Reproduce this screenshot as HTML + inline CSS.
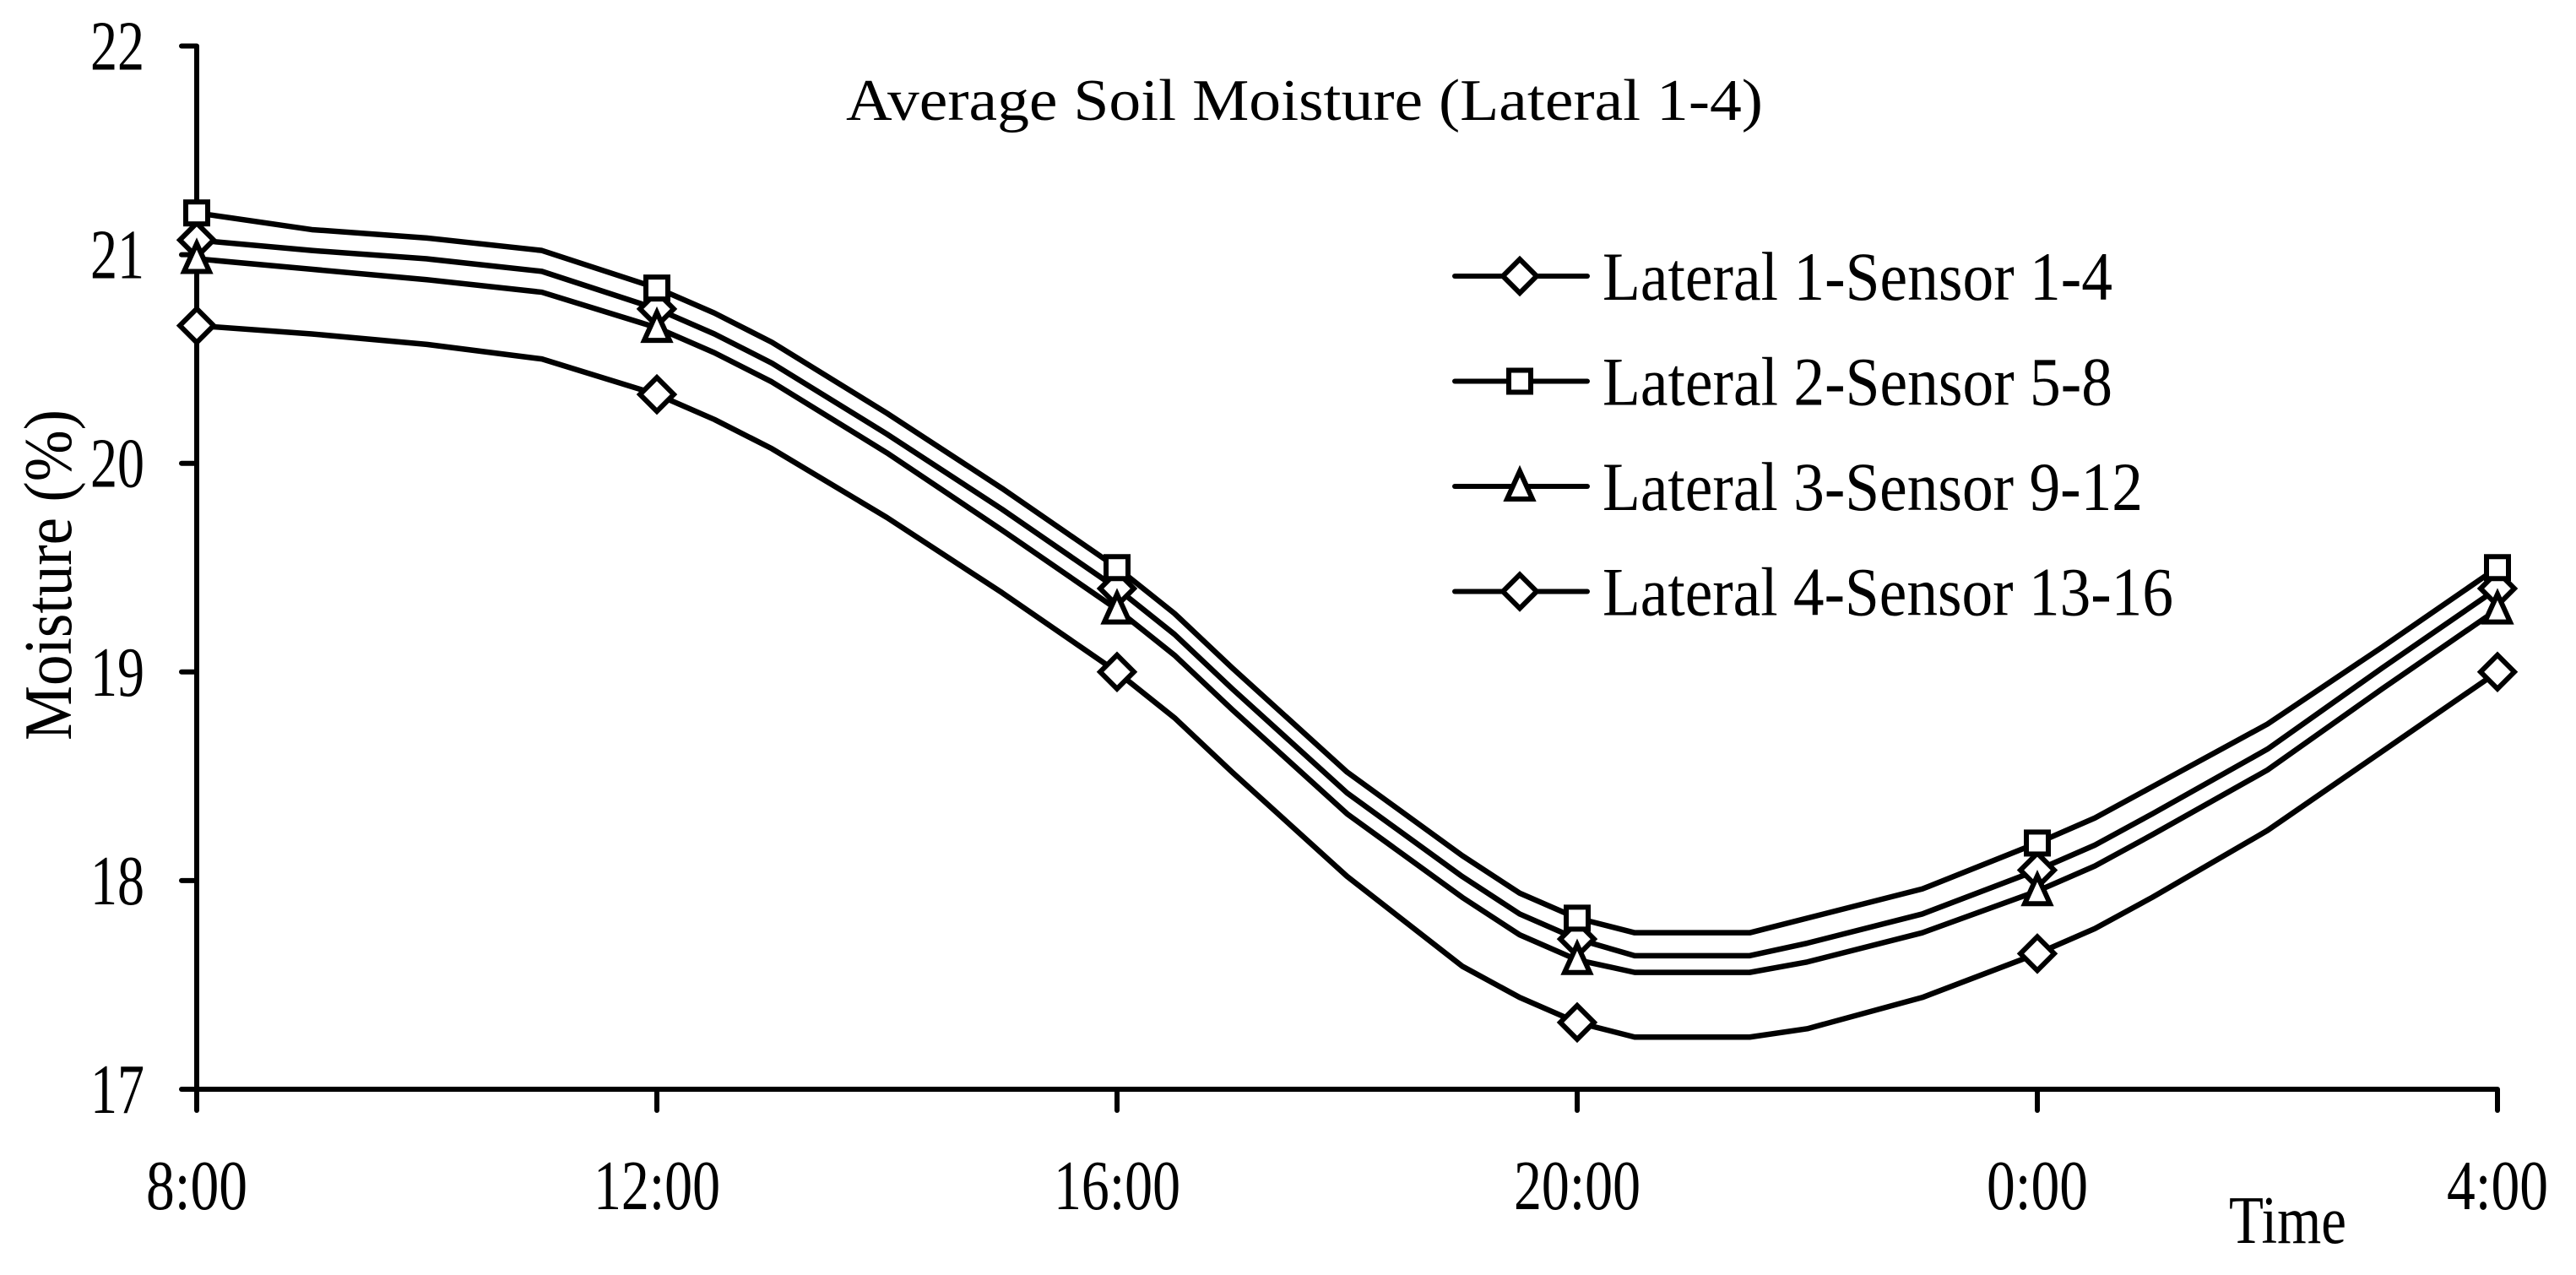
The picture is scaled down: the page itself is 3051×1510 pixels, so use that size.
<!DOCTYPE html>
<html><head><meta charset="utf-8"><style>
html,body{margin:0;padding:0;background:#fff;}
svg{display:block;}
text{font-family:"Liberation Serif","DejaVu Serif",serif;fill:#000;}
</style></head>
<body>
<svg id="chart" width="3051" height="1510" viewBox="0 0 3051 1510" xmlns="http://www.w3.org/2000/svg">
<rect width="3051" height="1510" fill="#fff"/>
<text x="1002" y="142" font-size="70" textLength="1086" lengthAdjust="spacingAndGlyphs">Average Soil Moisture (Lateral 1-4)</text>
<text transform="translate(84,681) rotate(-90)" text-anchor="middle" font-size="80" textLength="392" lengthAdjust="spacingAndGlyphs">Moisture (%)</text>
<text x="2640" y="1472" font-size="80" textLength="139" lengthAdjust="spacingAndGlyphs">Time</text>
<g id="axes"></g>
<g id="series"></g>
<g id="legend"></g>
</svg>
<script>
const times = [0,1,2,3,4,4.5,5,6,7,8,8.5,9,10,11,11.5,12,12.5,13.5,14,15,16,16.5,17,18,19,20];
const xTickLabels = ["8:00","12:00","16:00","20:00","0:00","4:00"];
const yTicks = [17,18,19,20,21,22];
const seriesNames = ["Lateral 1-Sensor 1-4","Lateral 2-Sensor 5-8","Lateral 3-Sensor 9-12","Lateral 4-Sensor 13-16"];
const l1 = [21.07,21.02,20.98,20.92,20.74,20.62,20.48,20.14,19.78,19.40,19.18,18.92,18.42,18.02,17.84,17.72,17.64,17.64,17.70,17.84,18.05,18.17,18.32,18.63,19.02,19.40];
const l2 = [21.20,21.12,21.08,21.02,20.84,20.72,20.58,20.24,19.88,19.50,19.28,19.02,18.52,18.12,17.94,17.82,17.75,17.75,17.82,17.96,18.18,18.30,18.45,18.75,19.12,19.50];
const l3 = [20.98,20.93,20.88,20.82,20.65,20.53,20.39,20.05,19.68,19.30,19.08,18.82,18.32,17.92,17.74,17.62,17.56,17.56,17.61,17.75,17.95,18.07,18.22,18.53,18.92,19.30];
const l4 = [20.66,20.62,20.57,20.50,20.33,20.21,20.07,19.74,19.38,19.00,18.78,18.52,18.02,17.59,17.44,17.32,17.25,17.25,17.29,17.44,17.65,17.77,17.92,18.24,18.62,19.00];
const markers = ["diamond","square","triangle","diamond"];

const NS="http://www.w3.org/2000/svg";
const X0=233,X1=2958,Y0=1290,Y1=54.5;
const xs=t=>X0+t*(X1-X0)/20;
const ys=v=>Y0-(v-17)*(Y0-Y1)/5;
function mk(tag,attrs,parent){const e=document.createElementNS(NS,tag);for(const k in attrs)e.setAttribute(k,attrs[k]);parent.appendChild(e);return e;}
const axes=document.getElementById('axes');
let a=mk('line',{x1:X0,y1:Y1,x2:X0,y2:Y0,stroke:'#000','stroke-width':6},axes);


a=mk('line',{x1:X0,y1:Y0,x2:X1,y2:Y0,stroke:'#000','stroke-width':6},axes);


yTicks.forEach(v=>{
  const t=mk('line',{x1:X0-18,y1:ys(v),x2:X0,y2:ys(v),stroke:'#000','stroke-width':6,'stroke-linecap':'round'},axes);
  
  
  const l=mk('text',{x:171,y:ys(v)+28,'text-anchor':'end','font-size':84,textLength:64,lengthAdjust:'spacingAndGlyphs'},axes);
  l.textContent=String(v);
  
  
});
xTickLabels.forEach((s,i)=>{
  const x=xs(i*4);
  const t=mk('line',{x1:x,y1:Y0,x2:x,y2:Y0+25,stroke:'#000','stroke-width':6,'stroke-linecap':'round'},axes);
  
  
  const l=mk('text',{x:x,y:1432,'text-anchor':'middle','font-size':84,textLength:s.length*30,lengthAdjust:'spacingAndGlyphs'},axes);
  l.textContent=s;
  
  
});
function marker(kind,x,y,parent){
  let e;
  if(kind==='diamond') e=mk('polygon',{points:`${x},${y-20} ${x+20},${y} ${x},${y+20} ${x-20},${y}`,fill:'#fff',stroke:'#000','stroke-width':6,'stroke-linejoin':'miter'},parent);
  else if(kind==='square') e=mk('rect',{x:x-13,y:y-13,width:26,height:26,fill:'#fff',stroke:'#000','stroke-width':6},parent);
  else e=mk('polygon',{points:`${x},${y-18} ${x+15},${y+15} ${x-15},${y+15}`,fill:'#fff',stroke:'#000','stroke-width':6,'stroke-linejoin':'miter'},parent);
  return e;
}
const series=document.getElementById('series');
[l1,l2,l3,l4].forEach((vals,si)=>{
  const g=mk('g',{},series);
  
  
  const pts=vals.map((v,i)=>xs(times[i])+','+ys(v)).join(' ');
  const pl=mk('polyline',{points:pts,fill:'none',stroke:'#000','stroke-width':6.5,'stroke-linejoin':'round'},g);
  
  
  vals.forEach((v,i)=>{
    if(times[i]%4===0){
      const m=marker(markers[si],xs(times[i]),ys(v),g);
      
      
    }
  });
});
const legend=document.getElementById('legend');
const legW=[604,604,640,676];
seriesNames.forEach((s,i)=>{
  const y=327+i*124.5;
  const g=mk('g',{},legend);
  
  
  mk('line',{x1:1723,y1:y,x2:1880,y2:y,stroke:'#000','stroke-width':6,'stroke-linecap':'round'},g);
  marker(markers[i],1800,y,g);
  const t=mk('text',{x:1898,y:y+28,'font-size':82,textLength:legW[i],lengthAdjust:'spacingAndGlyphs'},g);
  t.textContent=s;
});
</script>
</body></html>
